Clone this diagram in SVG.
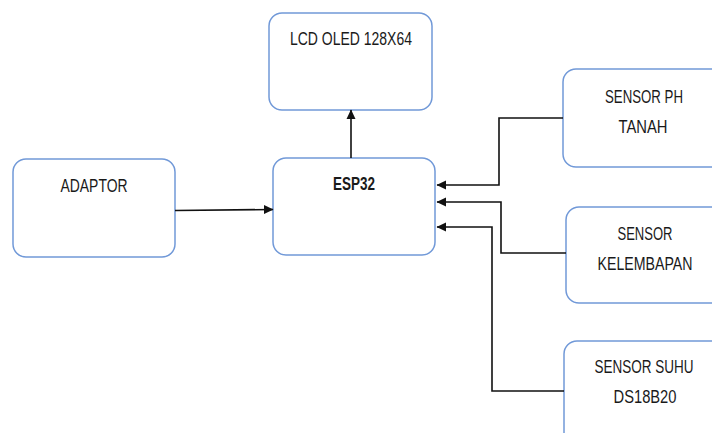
<svg xmlns="http://www.w3.org/2000/svg" width="712" height="433" viewBox="0 0 712 433">
<style>
.box{fill:#fff;stroke:#7199d8;stroke-width:1.5}
.t{font-family:"Liberation Sans",Arial,sans-serif;font-size:18px;fill:#1a1a1a;text-anchor:middle}
.b{font-weight:bold}
.c{fill:none;stroke:#111;stroke-width:1.6}
</style>
<defs>
<marker id="ah" markerWidth="10" markerHeight="10" refX="9" refY="5" orient="auto" markerUnits="userSpaceOnUse">
<path d="M0,0.5 L9.5,5 L0,9.5 Z" fill="#111"/>
</marker>
</defs>
<rect width="712" height="433" fill="#fff"/>
<g id="adaptor">
<rect class="box" x="13" y="159" width="162" height="98" rx="13"/>
<text class="t" x="94" y="192" textLength="67" lengthAdjust="spacingAndGlyphs">ADAPTOR</text>
</g>
<g id="lcd">
<rect class="box" x="269" y="13" width="163" height="97" rx="13"/>
<text class="t" x="351" y="45" textLength="122" lengthAdjust="spacingAndGlyphs">LCD OLED 128X64</text>
</g>
<g id="esp32">
<rect class="box" x="273" y="158" width="162" height="97" rx="13"/>
<text class="t b" x="354" y="190" textLength="42" lengthAdjust="spacingAndGlyphs">ESP32</text>
</g>
<g id="sensor-ph">
<rect class="box" x="563" y="69" width="170" height="98" rx="13"/>
<text class="t" x="644" y="103" textLength="78" lengthAdjust="spacingAndGlyphs">SENSOR PH</text>
<text class="t" x="643" y="133" textLength="49" lengthAdjust="spacingAndGlyphs">TANAH</text>
</g>
<g id="sensor-kelembapan">
<rect class="box" x="566" y="207" width="170" height="96" rx="13"/>
<text class="t" x="645" y="240" textLength="55" lengthAdjust="spacingAndGlyphs">SENSOR</text>
<text class="t" x="645" y="270" textLength="95" lengthAdjust="spacingAndGlyphs">KELEMBAPAN</text>
</g>
<g id="sensor-suhu">
<rect class="box" x="564" y="341" width="170" height="110" rx="13"/>
<text class="t" x="644" y="373" textLength="99" lengthAdjust="spacingAndGlyphs">SENSOR SUHU</text>
<text class="t" x="645" y="403" textLength="63" lengthAdjust="spacingAndGlyphs">DS18B20</text>
</g>
<g id="connectors">
<path class="c" d="M175,210.5 L273,209.5" marker-end="url(#ah)"/>
<path class="c" d="M351,158 L351,110" marker-end="url(#ah)"/>
<path class="c" d="M563,118 L499,118 L499,185 L437,185" marker-end="url(#ah)"/>
<path class="c" d="M566,253 L501,253 L501,202 L437,202" marker-end="url(#ah)"/>
<path class="c" d="M564,391 L492,391 L492,227 L437,227" marker-end="url(#ah)"/>
</g>
</svg>
